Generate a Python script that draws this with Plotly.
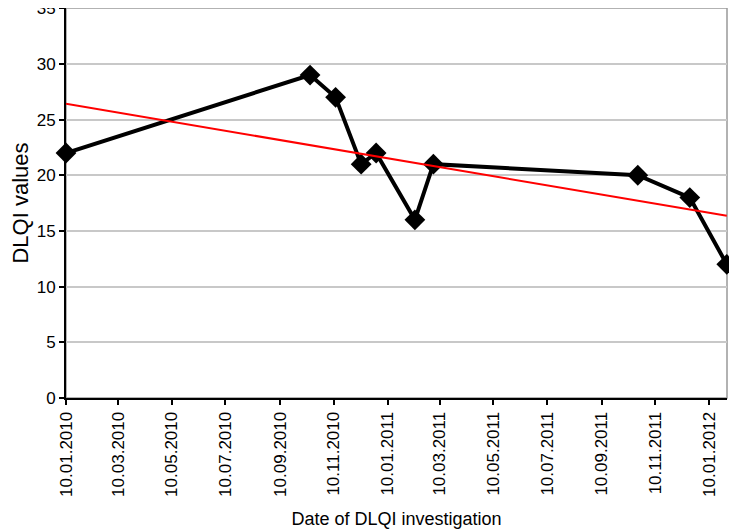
import numpy as np
import pandas as pd
import plotly.graph_objects as go

dates = ['2010-01-10', '2010-10-14', '2010-11-12', '2010-12-11', '2010-12-28',
         '2011-02-10', '2011-03-03', '2011-10-21', '2011-12-19', '2012-01-30']
dlqi = [22, 29, 27, 21, 22, 16, 21, 20, 18, 12]

tick_dates = ['2010-01-10', '2010-03-10', '2010-05-10', '2010-07-10', '2010-09-10',
              '2010-11-10', '2011-01-10', '2011-03-10', '2011-05-10', '2011-07-10',
              '2011-09-10', '2011-11-10', '2012-01-10']
y_ticks = [0, 5, 10, 15, 20, 25, 30, 35]

d = pd.to_datetime(dates)
days = (d - d[0]).days.values.astype(float)

# linear trend like excel
slope, icpt = np.polyfit(days, dlqi, 1)
trend_x = [d[0], d[-1]]
trend_y = [icpt + slope * days[0], icpt + slope * days[-1]]

fig = go.Figure()
fig.add_trace(go.Scatter(x=d, y=dlqi, mode='lines+markers',
                         line=dict(color='black', width=4),
                         marker=dict(symbol='diamond', size=16, color='black'),
                         cliponaxis=False))
# trend line sits on top of the data line
fig.add_trace(go.Scatter(x=trend_x, y=trend_y, mode='lines',
                         line=dict(color='#ff0000', width=2), cliponaxis=False))

# page has an 8px body margin, so the figure is a bit smaller than the window
fig.update_layout(
    width=729, height=524,
    margin=dict(l=58, r=10, t=0, b=134),
    paper_bgcolor='white', plot_bgcolor='white',
    showlegend=False,
    font=dict(family='Liberation Sans, Arial', color='black', size=16),
    shapes=[dict(type='rect', xref='paper', yref='paper', x0=0, x1=1, y0=0, y1=1,
                 line=dict(color='#999999', width=1.5), layer='below')],
)
fig.update_xaxes(
    range=[d[0], d[-1] + pd.Timedelta(hours=6)], automargin=False,
    tickvals=pd.to_datetime(tick_dates), tickformat='%d.%m.%Y', tickangle=-90,
    showgrid=False, zeroline=False,
    showline=True, linecolor='black', linewidth=2,
    ticks='outside', ticklen=5, tickwidth=1.5, tickcolor='black',
    tickfont=dict(size=17),
    title=dict(text='Date of DLQI investigation', standoff=17, font=dict(size=18)),
)
fig.update_yaxes(
    range=[0, 35.02], tickvals=y_ticks, automargin=False, ticklabeloverflow='allow',
    showgrid=True, gridcolor='#c8c8c8', gridwidth=1.5, zeroline=False,
    showline=True, linecolor='black', linewidth=2,
    ticks='outside', ticklen=5, tickwidth=1.5, tickcolor='black',
    tickfont=dict(size=17),
    title=dict(text='DLQI values', font=dict(size=22), standoff=15),
)

fig.write_html("out.html")
